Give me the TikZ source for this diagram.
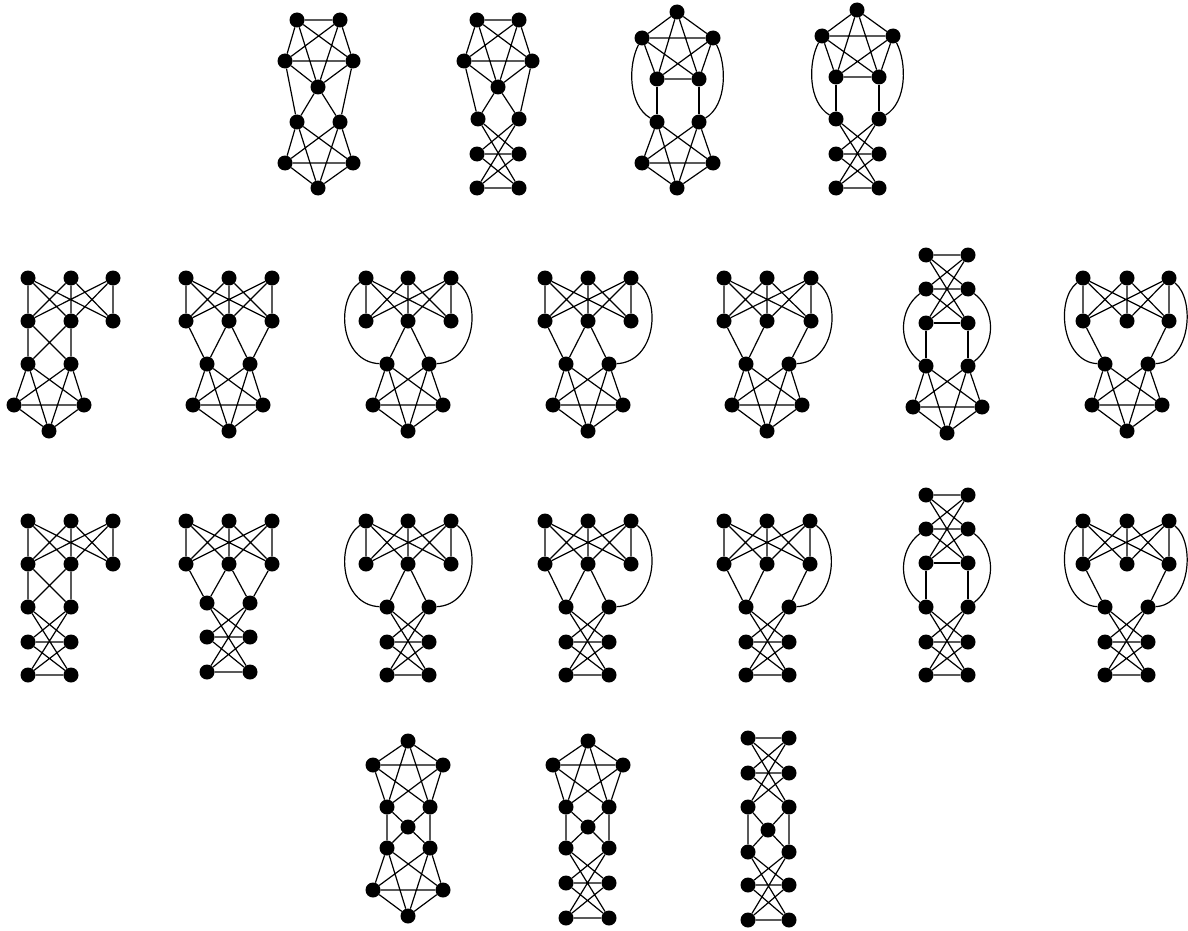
\documentclass[tikz,border=0pt]{standalone}
\tikzset{
  v/.style={circle,fill=black,inner sep=0pt,minimum size=15pt},
  e/.style={line width=1.2pt,black}
}
\newcommand\Vx[3]{\node[v] (#1) at (#2,#3) {};}
\newcommand\PQrow[5]{\Vx{p1}{#1}{#4}\Vx{p2}{#2}{#4}\Vx{p3}{#3}{#4}\Vx{q1}{#1}{#5}\Vx{q2}{#2}{#5}\Vx{q3}{#3}{#5}}
\newcommand\KFive[5]{\draw[e] (#1)--(#2) (#1)--(#3) (#1)--(#4) (#1)--(#5) (#2)--(#3) (#2)--(#4) (#2)--(#5) (#3)--(#4) (#3)--(#5) (#4)--(#5);}
\newcommand\BotFive{\draw[e] (f)--(h) (f)--(i) (f)--(j) (g)--(h) (g)--(i) (g)--(j) (h)--(i) (h)--(j) (i)--(j);}
\newcommand\BotLad{\draw[e] (f)--(i) (f)--(l) (g)--(h) (g)--(k) (h)--(i) (h)--(l) (i)--(k) (k)--(l);}
\newcommand\KTT{\draw[e] (p1)--(q1) (p1)--(q2) (p1)--(q3) (p2)--(q1) (p2)--(q2) (p2)--(q3) (p3)--(q1) (p3)--(q2) (p3)--(q3);}
\newcommand\TopLad{\draw[e] (t1)--(t2) (a)--(b) (t1)--(b) (t2)--(a) (t1)--(d) (t2)--(c) (a)--(d) (b)--(c);}
\newcommand\TopFour{\draw[e] (t)--(a) (t)--(b) (t)--(c) (t)--(d) (a)--(b) (a)--(c) (a)--(d) (b)--(c) (b)--(d);}
\newcommand\MidE{\draw[e] (c)--(e) (d)--(e) (c)--(f) (d)--(g) (e)--(f) (e)--(g);}
\begin{document}
\begin{tikzpicture}[x=1pt,y=-1pt]
\useasboundingbox (0,0) rectangle (1188,931);
% ---------- row 1 ----------
\begin{scope}[name prefix=A-]
\Vx{a}{297}{20}\Vx{b}{340}{20}\Vx{c}{285}{61}\Vx{d}{353}{61}\Vx{e}{318}{87}
\Vx{f}{297}{122}\Vx{g}{340}{122}\Vx{h}{285}{163}\Vx{i}{353}{163}\Vx{j}{318}{188}
\KFive{a}{b}{c}{d}{e}
\draw[e] (c)--(f) (d)--(g) (e)--(f) (e)--(g);
\BotFive
\end{scope}
\begin{scope}[name prefix=B-]
\Vx{a}{477}{20}\Vx{b}{519}{20}\Vx{c}{464}{61}\Vx{d}{532}{61}\Vx{e}{498}{87}
\Vx{f}{478}{119}\Vx{g}{519}{119}\Vx{h}{477}{154}\Vx{i}{519}{154}\Vx{k}{477}{188}\Vx{l}{519}{188}
\KFive{a}{b}{c}{d}{e}
\draw[e] (c)--(f) (d)--(g) (e)--(f) (e)--(g);
\BotLad
\end{scope}
\begin{scope}[name prefix=C-]
\Vx{t}{677}{12}\Vx{a}{642}{38}\Vx{b}{713}{38}\Vx{c}{657}{79}\Vx{d}{699}{79}
\Vx{f}{657}{122}\Vx{g}{699}{122}\Vx{h}{642}{163}\Vx{i}{713}{163}\Vx{j}{677}{188}
\KFive{t}{a}{b}{c}{d}
\draw[e] (c)--(f) (d)--(g);
\draw[e] (a) .. controls (628,65) and (628,105) .. (f);
\draw[e] (b) .. controls (727,65) and (727,105) .. (g);
\BotFive
\end{scope}
\begin{scope}[name prefix=D-]
\Vx{t}{857}{10}\Vx{a}{822}{36}\Vx{b}{893}{36}\Vx{c}{836}{77}\Vx{d}{879}{77}
\Vx{f}{836}{119}\Vx{g}{879}{119}\Vx{h}{836}{154}\Vx{i}{879}{154}\Vx{k}{836}{188}\Vx{l}{879}{188}
\KFive{t}{a}{b}{c}{d}
\draw[e] (c)--(f) (d)--(g);
\draw[e] (a) .. controls (808,63) and (808,102) .. (f);
\draw[e] (b) .. controls (907,63) and (907,102) .. (g);
\BotLad
\end{scope}
% ---------- row 2 ----------
\begin{scope}[name prefix=E-]
\PQrow{28}{71}{113}{278}{321}
\Vx{f}{28}{364}\Vx{g}{71}{364}\Vx{h}{14}{405}\Vx{i}{84}{405}\Vx{j}{49}{431}
\KTT
\draw[e] (q1)--(f) (q2)--(g) (q1)--(g) (q2)--(f);
\BotFive
\end{scope}
\begin{scope}[name prefix=F-]
\PQrow{186}{229}{272}{278}{321}
\Vx{f}{207}{364}\Vx{g}{250}{364}\Vx{h}{193}{405}\Vx{i}{263}{405}\Vx{j}{229}{431}
\KTT
\draw[e] (q1)--(f) (q2)--(f) (q2)--(g) (q3)--(g);
\BotFive
\end{scope}
\begin{scope}[name prefix=G-]
\PQrow{366}{408}{451}{278}{321}
\Vx{f}{387}{364}\Vx{g}{429}{364}\Vx{h}{373}{405}\Vx{i}{443}{405}\Vx{j}{408}{431}
\KTT
\draw[e] (q2)--(f) (q2)--(g);
\draw[e] (p1) .. controls (335,300) and (340,362) .. (f);
\draw[e] (p3) .. controls (482,300) and (476,362) .. (g);
\BotFive
\end{scope}
\begin{scope}[name prefix=H-]
\PQrow{545}{588}{631}{278}{321}
\Vx{f}{566}{364}\Vx{g}{609}{364}\Vx{h}{553}{405}\Vx{i}{623}{405}\Vx{j}{588}{431}
\KTT
\draw[e] (q1)--(f) (q2)--(f) (q2)--(g);
\draw[e] (p3) .. controls (662,300) and (656,362) .. (g);
\BotFive
\end{scope}
\begin{scope}[name prefix=I-]
\PQrow{724}{767}{811}{278}{321}
\Vx{f}{746}{364}\Vx{g}{789}{364}\Vx{h}{732}{405}\Vx{i}{802}{405}\Vx{j}{767}{431}
\KTT
\draw[e] (q1)--(f) (q2)--(f) (q3)--(g);
\draw[e] (p3) .. controls (842,300) and (836,362) .. (g);
\BotFive
\end{scope}
\begin{scope}[name prefix=J-]
\Vx{t1}{926}{255}\Vx{t2}{968}{255}\Vx{a}{926}{289}\Vx{b}{968}{289}\Vx{c}{926}{323}\Vx{d}{968}{323}
\Vx{f}{926}{366}\Vx{g}{968}{366}\Vx{h}{913}{407}\Vx{i}{982}{407}\Vx{j}{947}{433}
\TopLad
\draw[e] (c)--(d) (c)--(f) (d)--(g);
\draw[e] (a) .. controls (898,310) and (898,345) .. (f);
\draw[e] (b) .. controls (996,310) and (996,345) .. (g);
\BotFive
\end{scope}
\begin{scope}[name prefix=K-]
\PQrow{1083}{1127}{1169}{278}{321}
\Vx{f}{1105}{364}\Vx{g}{1148}{364}\Vx{h}{1092}{405}\Vx{i}{1162}{405}\Vx{j}{1127}{431}
\KTT
\draw[e] (q1)--(f) (q3)--(g);
\draw[e] (p1) .. controls (1055,300) and (1062,362) .. (f);
\draw[e] (p3) .. controls (1196,300) and (1190,362) .. (g);
\BotFive
\end{scope}
% ---------- row 3 ----------
\begin{scope}[name prefix=L-]
\PQrow{28}{71}{113}{521}{564}
\Vx{f}{28}{607}\Vx{g}{71}{607}\Vx{h}{28}{642}\Vx{i}{71}{642}\Vx{k}{28}{675}\Vx{l}{71}{675}
\KTT
\draw[e] (q1)--(f) (q2)--(g) (q1)--(g) (q2)--(f);
\BotLad
\end{scope}
\begin{scope}[name prefix=M-]
\PQrow{186}{229}{272}{521}{564}
\Vx{f}{207}{603}\Vx{g}{250}{603}\Vx{h}{207}{637}\Vx{i}{250}{637}\Vx{k}{207}{672}\Vx{l}{250}{672}
\KTT
\draw[e] (q1)--(f) (q2)--(f) (q2)--(g) (q3)--(g);
\BotLad
\end{scope}
\begin{scope}[name prefix=N-]
\PQrow{366}{408}{451}{521}{564}
\Vx{f}{387}{607}\Vx{g}{429}{607}\Vx{h}{387}{642}\Vx{i}{429}{642}\Vx{k}{387}{675}\Vx{l}{429}{675}
\KTT
\draw[e] (q2)--(f) (q2)--(g);
\draw[e] (p1) .. controls (335,543) and (340,605) .. (f);
\draw[e] (p3) .. controls (482,543) and (476,605) .. (g);
\BotLad
\end{scope}
\begin{scope}[name prefix=O-]
\PQrow{545}{588}{631}{521}{564}
\Vx{f}{566}{607}\Vx{g}{609}{607}\Vx{h}{566}{642}\Vx{i}{609}{642}\Vx{k}{566}{675}\Vx{l}{609}{675}
\KTT
\draw[e] (q1)--(f) (q2)--(f) (q2)--(g);
\draw[e] (p3) .. controls (662,543) and (656,605) .. (g);
\BotLad
\end{scope}
\begin{scope}[name prefix=P-]
\PQrow{724}{767}{810}{521}{564}
\Vx{f}{746}{607}\Vx{g}{789}{607}\Vx{h}{746}{642}\Vx{i}{789}{642}\Vx{k}{746}{675}\Vx{l}{789}{675}
\KTT
\draw[e] (q1)--(f) (q2)--(f) (q3)--(g);
\draw[e] (p3) .. controls (841,543) and (836,605) .. (g);
\BotLad
\end{scope}
\begin{scope}[name prefix=Q-]
\Vx{t1}{926}{495}\Vx{t2}{968}{495}\Vx{a}{926}{529}\Vx{b}{968}{529}\Vx{c}{926}{563}\Vx{d}{968}{563}
\Vx{f}{926}{607}\Vx{g}{968}{607}\Vx{h}{926}{642}\Vx{i}{968}{642}\Vx{k}{926}{675}\Vx{l}{968}{675}
\TopLad
\draw[e] (c)--(d) (c)--(f) (d)--(g);
\draw[e] (a) .. controls (898,550) and (898,586) .. (f);
\draw[e] (b) .. controls (996,550) and (996,586) .. (g);
\BotLad
\end{scope}
\begin{scope}[name prefix=R-]
\PQrow{1083}{1127}{1169}{521}{564}
\Vx{f}{1105}{607}\Vx{g}{1148}{607}\Vx{h}{1105}{642}\Vx{i}{1148}{642}\Vx{k}{1105}{675}\Vx{l}{1148}{675}
\KTT
\draw[e] (q1)--(f) (q3)--(g);
\draw[e] (p1) .. controls (1055,543) and (1062,605) .. (f);
\draw[e] (p3) .. controls (1196,543) and (1190,605) .. (g);
\BotLad
\end{scope}
% ---------- row 4 ----------
\begin{scope}[name prefix=S-]
\Vx{t}{408}{741}\Vx{a}{373}{765}\Vx{b}{443}{765}\Vx{c}{387}{807}\Vx{d}{430}{807}\Vx{e}{408}{827}
\Vx{f}{387}{848}\Vx{g}{430}{848}\Vx{h}{373}{890}\Vx{i}{443}{890}\Vx{j}{408}{916}
\TopFour
\MidE
\BotFive
\end{scope}
\begin{scope}[name prefix=T-]
\Vx{t}{588}{741}\Vx{a}{553}{765}\Vx{b}{623}{765}\Vx{c}{566}{807}\Vx{d}{609}{807}\Vx{e}{588}{827}
\Vx{f}{566}{848}\Vx{g}{609}{848}\Vx{h}{566}{883}\Vx{i}{609}{883}\Vx{k}{566}{918}\Vx{l}{609}{918}
\TopFour
\MidE
\BotLad
\end{scope}
\begin{scope}[name prefix=U-]
\Vx{t1}{748}{738}\Vx{t2}{789}{738}\Vx{a}{748}{773}\Vx{b}{789}{773}\Vx{c}{748}{807}\Vx{d}{789}{807}\Vx{e}{768}{830}
\Vx{f}{748}{852}\Vx{g}{789}{852}\Vx{h}{748}{885}\Vx{i}{789}{885}\Vx{k}{748}{920}\Vx{l}{789}{920}
\TopLad
\MidE
\BotLad
\end{scope}
\end{tikzpicture}
\end{document}
